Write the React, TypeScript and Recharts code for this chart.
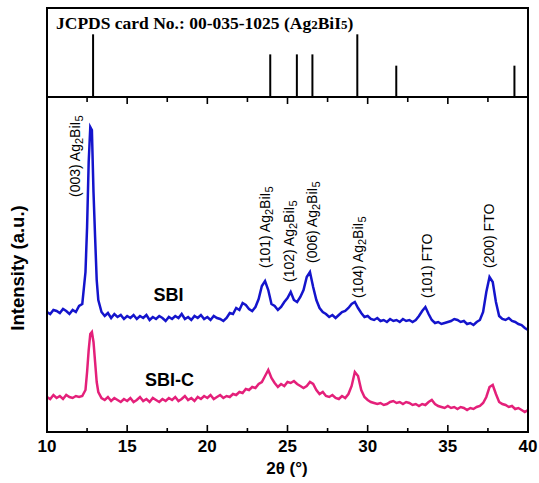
import React from 'react';
import { BarChart, Bar, LineChart, Line, XAxis, YAxis, ReferenceDot } from 'recharts';

// 2θ positions (degrees), one row per integer degree
const angles = [
  10.0, 10.2, 10.4, 10.6, 10.8,
  11.0, 11.2, 11.4, 11.6, 11.8,
  12.0, 12.2, 12.4, 12.5, 12.6, 12.7, 12.8, 12.9,
  13.0, 13.1, 13.2, 13.4, 13.6, 13.8,
  14.0, 14.2, 14.4, 14.6, 14.8,
  15.0, 15.2, 15.4, 15.6, 15.8,
  16.0, 16.2, 16.4, 16.6, 16.8,
  17.0, 17.2, 17.4, 17.6, 17.8,
  18.0, 18.2, 18.4, 18.6, 18.8,
  19.0, 19.2, 19.4, 19.6, 19.8,
  20.0, 20.2, 20.4, 20.6, 20.8,
  21.0, 21.2, 21.4, 21.6, 21.8,
  22.0, 22.2, 22.4, 22.6, 22.8,
  23.0, 23.2, 23.4, 23.6, 23.8,
  24.0, 24.2, 24.4, 24.6, 24.8,
  25.0, 25.2, 25.4, 25.6, 25.8,
  26.0, 26.2, 26.4, 26.6, 26.8,
  27.0, 27.2, 27.4, 27.6, 27.8,
  28.0, 28.2, 28.4, 28.6, 28.8,
  29.0, 29.2, 29.4, 29.6, 29.8,
  30.0, 30.2, 30.4, 30.6, 30.8,
  31.0, 31.2, 31.4, 31.6, 31.8,
  32.0, 32.2, 32.4, 32.6, 32.8,
  33.0, 33.2, 33.4, 33.6, 33.8,
  34.0, 34.2, 34.4, 34.6, 34.8,
  35.0, 35.2, 35.4, 35.6, 35.8,
  36.0, 36.2, 36.4, 36.6, 36.8,
  37.0, 37.2, 37.4, 37.6, 37.8,
  38.0, 38.2, 38.4, 38.6, 38.8,
  39.0, 39.2, 39.4, 39.6, 39.8,
  40.0,
];

// SBI intensity (a.u.)
const sbi = [
  120, 118, 122, 121, 119,
  123, 121, 118, 122, 120,
  126, 128, 160, 205, 270, 305, 302, 240,
  195, 152, 132, 120, 116, 119,
  114, 118, 115, 117, 113,
  116, 114, 117, 113, 116,
  114, 117, 112, 115, 113,
  116, 114, 111, 115, 113,
  116, 114, 118, 113, 115,
  112, 116, 114, 117, 113,
  115, 112, 116, 114, 113,
  111, 114, 119, 118, 124,
  122, 129, 127, 123, 121,
  125, 133, 146, 151, 142,
  128, 126, 122, 125, 130,
  134, 140, 132, 130, 135,
  142, 155, 160, 145, 132,
  124, 120, 118, 115, 117,
  114, 117, 120, 121, 124,
  128, 130, 124, 119, 115,
  116, 113, 112, 114, 111,
  112, 110, 113, 111, 112,
  110, 113, 111, 112, 110,
  112, 116, 121, 125, 118,
  112, 109, 110, 108, 109,
  110, 111, 113, 112, 110,
  111, 108, 109, 107, 110,
  112, 120, 140, 155, 150,
  130, 116, 113, 112, 114,
  111, 110, 108, 107, 104,
  102,
];

// SBI-C intensity (a.u.)
const sbiC = [
  35, 33, 37, 34, 36,
  33, 37, 35, 34, 36,
  35, 36, 42, 60, 82, 98, 100, 90,
  70, 50, 40, 34, 32, 35,
  31, 34, 32, 30, 33,
  31, 34, 30, 32, 35,
  31, 33, 30, 34, 32,
  30, 33, 31, 34, 32,
  35, 31, 33, 36, 32,
  34, 31, 35, 33, 36,
  34, 37, 33, 35, 37,
  34, 36, 35, 38, 37,
  40, 39, 43, 42, 45,
  44, 48, 50, 56, 62,
  54, 49, 45, 48, 46,
  50, 49, 51, 48, 46,
  44, 46, 50, 48, 42,
  38, 40, 36, 35, 37,
  34, 33, 36, 34, 38,
  46, 60, 56, 42, 35,
  32, 30, 29, 28, 29,
  27, 28, 30, 31, 29,
  30, 28, 30, 29, 27,
  28, 26, 28, 27, 30,
  32, 28, 26, 25, 24,
  26, 24, 25, 23, 25,
  24, 22, 24, 23, 25,
  26, 29, 35, 45, 47,
  38, 30, 28, 27, 25,
  26, 23, 24, 22, 20,
  22,
];

// JCPDS 00-035-1025 reference lines
const cardAngles = [12.86, 23.91, 25.57, 26.54, 29.34, 31.77, 39.14];
const cardIntensity = [100, 68, 68, 68, 100, 50, 50];

const xTicks = [10, 12.5, 15, 17.5, 20, 22.5, 25, 27.5, 30, 32.5, 35, 37.5, 40];

// peak annotations: hkl, phase, label anchor (2θ, intensity)
const annoHkl = ['(003)', '(101)', '(102)', '(006)', '(104)', '(101)', '(200)'];
const annoPhase = ['Ag2BiI5', 'Ag2BiI5', 'Ag2BiI5', 'Ag2BiI5', 'Ag2BiI5', 'FTO', 'FTO'];
const annoAngle = [11.75, 23.6, 25.1, 26.53, 29.4, 33.7, 37.58];
const annoLevel = [235, 164, 150, 169, 134, 134, 164];

const sampleNames = ['SBI', 'SBI-C'];
const sampleAngle = [17.58, 17.64];
const sampleLevel = [137, 52];

const SANS = '"Liberation Sans", Arial, sans-serif';
const SERIF = '"Liberation Serif", "Times New Roman", serif';
const BLUE = '#1414cc';
const PINK = '#e4207a';

function BottomTick(props: any) {
  const { x, y, payload } = props;
  const v = payload.value;
  const major = v % 5 === 0;
  return (
    <g>
      <line x1={x} x2={x} y1={y} y2={y - (major ? 7 : 4)} stroke="#000" strokeWidth={1.6} />
      {major && (
        <text x={x} y={y + 20} textAnchor="middle" fontFamily={SANS} fontWeight="bold" fontSize={17} fill="#000">
          {v}
        </text>
      )}
    </g>
  );
}

function TopTick(props: any) {
  const { x, y, payload } = props;
  const v = payload.value;
  const major = v % 5 === 0;
  return <line x1={x} x2={x} y1={y} y2={y + (major ? 7 : 5)} stroke="#000" strokeWidth={1.6} />;
}

function AnnoText(props: any) {
  const { cx, cy, hkl, phase } = props;
  return (
    <g transform={`translate(${cx},${cy}) rotate(-90)`}>
      <text x={0} y={5} fontFamily={SANS} fontSize={14} fill="#000">
        {phase === 'FTO' ? (
          <tspan>{hkl} FTO</tspan>
        ) : (
          <>
            <tspan>{hkl} Ag</tspan>
            <tspan dy={3} fontSize={11}>2</tspan>
            <tspan dy={-3}>BiI</tspan>
            <tspan dy={3} fontSize={11}>5</tspan>
          </>
        )}
      </text>
    </g>
  );
}

function SampleText(props: any) {
  const { cx, cy, name } = props;
  return (
    <text x={cx} y={cy} textAnchor="middle" dominantBaseline="central" fontFamily={SANS} fontWeight="bold" fontSize={18} fill="#000">
      {name}
    </text>
  );
}

export default function App() {
  const lineData = angles.map((a, i) => ({ angle: a, sbi: sbi[i], sbiC: sbiC[i] }));
  const cardData = cardAngles.map((a, i) => ({ angle: a, intensity: cardIntensity[i] }));

  return (
    <div style={{ position: 'absolute', left: 0, top: 0, width: 539, height: 483, background: '#fff', overflow: 'hidden' }}>
      <div style={{ position: 'absolute', left: 0, top: 0 }}>
        <BarChart width={539} height={100} data={cardData} margin={{ top: 8, right: 11, bottom: 3, left: 47 }}>
          <XAxis type="number" dataKey="angle" domain={[10, 40]} hide allowDataOverflow />
          <YAxis type="number" domain={[0, 142]} hide allowDataOverflow />
          <Bar dataKey="intensity" fill="#000" barSize={2} isAnimationActive={false} />
        </BarChart>
      </div>
      <div style={{ position: 'absolute', left: 0, top: 0 }}>
        <LineChart width={539} height={483} data={lineData} margin={{ top: 96, right: 11, bottom: 50, left: 47 }}>
          <XAxis
            xAxisId="b"
            type="number"
            dataKey="angle"
            domain={[10, 40]}
            ticks={xTicks}
            interval={0}
            height={1}
            tickSize={0}
            tickMargin={0}
            axisLine={false}
            tickLine={false}
            tick={(p: any) => <BottomTick {...p} />}
            allowDataOverflow
          />
          <XAxis
            xAxisId="t"
            orientation="top"
            type="number"
            dataKey="angle"
            domain={[10, 40]}
            ticks={xTicks}
            interval={0}
            height={1}
            tickSize={0}
            tickMargin={0}
            axisLine={false}
            tickLine={false}
            tick={(p: any) => <TopTick {...p} />}
            allowDataOverflow
          />
          <YAxis type="number" domain={[0, 335]} hide allowDataOverflow />
          <Line xAxisId="b" type="linear" dataKey="sbi" stroke={BLUE} strokeWidth={2.5} dot={false} isAnimationActive={false} />
          <Line xAxisId="b" type="linear" dataKey="sbiC" stroke={PINK} strokeWidth={2.5} dot={false} isAnimationActive={false} />
          {annoAngle.map((a, i) => (
            <ReferenceDot
              key={'a' + i}
              xAxisId="b"
              x={a}
              y={annoLevel[i]}
              r={1}
              shape={(p: any) => <AnnoText cx={p.cx} cy={p.cy} hkl={annoHkl[i]} phase={annoPhase[i]} />}
            />
          ))}
          {sampleNames.map((n, i) => (
            <ReferenceDot
              key={'s' + i}
              xAxisId="b"
              x={sampleAngle[i]}
              y={sampleLevel[i]}
              r={1}
              shape={(p: any) => <SampleText cx={p.cx} cy={p.cy} name={n} />}
            />
          ))}
        </LineChart>
      </div>
      {/* frame */}
      <div style={{ position: 'absolute', left: 46, top: 7, width: 483, height: 426, border: '2px solid #000', boxSizing: 'border-box' }} />
      <div style={{ position: 'absolute', left: 46, top: 96, width: 483, height: 2, background: '#000' }} />
      <svg width={539} height={483} style={{ position: 'absolute', left: 0, top: 0, pointerEvents: 'none' }}>
        <text x={56} y={29} fontFamily={SERIF} fontWeight="bold" fontSize={17.5} fill="#000">
          JCPDS card No.: 00-035-1025 (Ag<tspan fontSize={13}>2</tspan>BiI<tspan fontSize={13}>5</tspan>)
        </text>
        <text
          x={17}
          y={268}
          transform="rotate(-90, 17, 268)"
          textAnchor="middle"
          dominantBaseline="central"
          fontFamily={SANS}
          fontWeight="bold"
          fontSize={18.5}
          fill="#000"
        >
          Intensity (a.u.)
        </text>
        <text x={287} y={474} textAnchor="middle" fontFamily={SANS} fontWeight="bold" fontSize={17} fill="#000">
          2θ (°)
        </text>
      </svg>
    </div>
  );
}
